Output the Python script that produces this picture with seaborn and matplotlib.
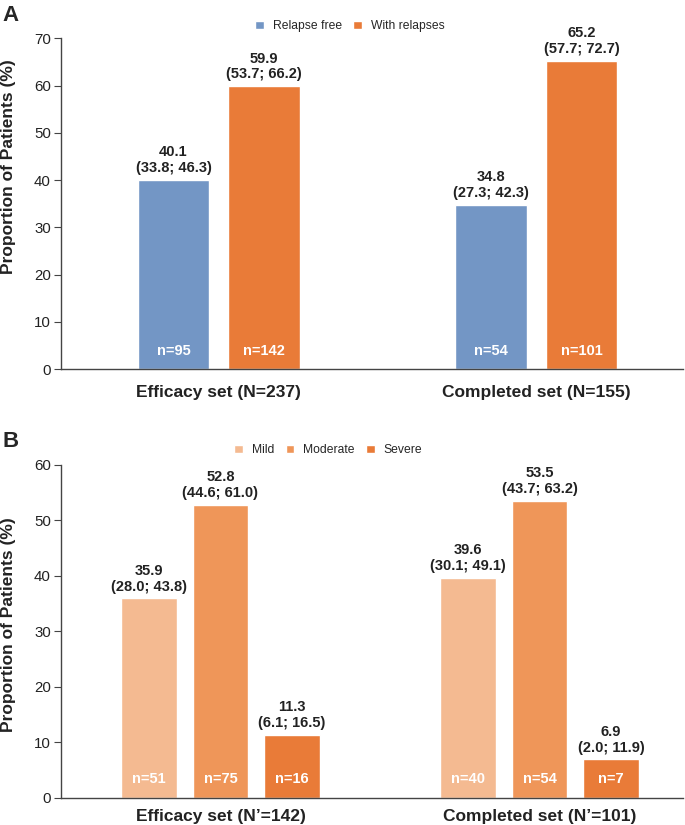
import matplotlib
matplotlib.use("Agg")
import matplotlib.pyplot as plt
import seaborn as sns
import pandas as pd

# ---- data ----
sets_a = ["Efficacy set (N=237)", "Completed set (N=155)"]
groups_a = ["Relapse free", "With relapses"]
vals_a = {"Relapse free": [40.1, 34.8], "With relapses": [59.9, 65.2]}
ci_a = {"Relapse free": ["(33.8; 46.3)", "(27.3; 42.3)"],
        "With relapses": ["(53.7; 66.2)", "(57.7; 72.7)"]}
n_a = {"Relapse free": [95, 54], "With relapses": [142, 101]}

sets_b = ["Efficacy set (N\u2019=142)", "Completed set (N\u2019=101)"]
groups_b = ["Mild", "Moderate", "Severe"]
vals_b = {"Mild": [35.9, 39.6], "Moderate": [52.8, 53.5], "Severe": [11.3, 6.9]}
ci_b = {"Mild": ["(28.0; 43.8)", "(30.1; 49.1)"],
        "Moderate": ["(44.6; 61.0)", "(43.7; 63.2)"],
        "Severe": ["(6.1; 16.5)", "(2.0; 11.9)"]}
n_b = {"Mild": [51, 40], "Moderate": [75, 54], "Severe": [16, 7]}

colors_a = ["#7396C5", "#E97B38"]
colors_b = ["#F4BA91", "#EF9659", "#E97B38"]

sns.set_style("white")
plt.rcParams["font.family"] = ["Liberation Sans", "DejaVu Sans"]


def make_df(sets, groups, vals):
    rows = []
    for g in groups:
        for i, s in enumerate(sets):
            rows.append({"set": s, "group": g, "value": vals[g][i]})
    return pd.DataFrame(rows)


def panel(ax, sets, groups, vals, cis, ns, colors, width, gap, ylim, yticks, xlim,
          ylab_y, xpad, leg_x, leg_y):
    df = make_df(sets, groups, vals)
    sns.barplot(data=df, x="set", y="value", hue="group", order=sets,
                hue_order=groups, palette=colors, width=width, gap=gap,
                saturation=1, ax=ax, legend=True)
    ax.set_ylim(*ylim)
    ax.set_xlim(*xlim)
    ax.set_yticks(yticks)
    ax.set_xlabel("")
    ax.set_ylabel("Proportion of Patients (%)", fontsize=12.5, fontweight="bold",
                  color="#222222")
    ax.yaxis.set_label_coords(-0.072, ylab_y)
    for sp in ["top", "right"]:
        ax.spines[sp].set_visible(False)
    for sp in ["left", "bottom"]:
        ax.spines[sp].set_color("#444444")
        ax.spines[sp].set_linewidth(1.0)
    ax.tick_params(axis="y", left=True, length=5, width=0.8, labelsize=10.8,
                   colors="#444444", labelcolor="#222222", pad=2)
    ax.tick_params(axis="x", bottom=False, labelsize=12.5, pad=xpad,
                   labelcolor="#222222")
    for lab in ax.get_xticklabels():
        lab.set_fontweight("bold")
    for gi, (cont, g) in enumerate(zip(ax.containers, groups)):
        for i, bar in enumerate(cont):
            x = bar.get_x() + bar.get_width() / 2
            h = bar.get_height()
            ax.annotate(f"{vals[g][i]:.1f}\n{cis[g][i]}", xy=(x, h),
                        xytext=(0, 3.5), textcoords="offset points",
                        ha="center", va="bottom", fontsize=10.5,
                        fontweight="bold", color="#222222", linespacing=1.15)
            ax.annotate(f"n={ns[g][i]}", xy=(x, 0), xytext=(0, 13.5),
                        textcoords="offset points", ha="center", va="center",
                        fontsize=10.5, fontweight="bold", color="white")
    ax.legend(loc="center", bbox_to_anchor=(leg_x, leg_y), ncol=len(groups),
              frameon=False, fontsize=8.7, handlelength=0.7, handleheight=0.7,
              handletextpad=0.75, columnspacing=0.95, borderaxespad=0.0,
              borderpad=0.0)
    return ax


fig = plt.figure(figsize=(6.85, 8.25), dpi=100)
ax1 = fig.add_axes([0.0886, 0.5524, 0.9085, 0.4012])
ax2 = fig.add_axes([0.0886, 0.0331, 0.9085, 0.4036])

panel(ax1, sets_a, groups_a, vals_a, ci_a, n_a, colors_a, width=0.571, gap=0.21,
      ylim=(0, 70), yticks=range(0, 71, 10), xlim=(-0.498, 1.462),
      ylab_y=0.611, xpad=8, leg_x=0.465, leg_y=1.037)
panel(ax2, sets_b, groups_b, vals_b, ci_b, n_b, colors_b, width=0.673, gap=0.22,
      ylim=(0, 60), yticks=range(0, 61, 10), xlim=(-0.501, 1.45),
      ylab_y=0.519, xpad=5, leg_x=0.43, leg_y=1.044)

fig.text(0.003, 0.994, "A", fontsize=16, fontweight="bold", va="top", ha="left")
fig.text(0.003, 0.478, "B", fontsize=16, fontweight="bold", va="top", ha="left")

fig.savefig("out.png", dpi=100)
